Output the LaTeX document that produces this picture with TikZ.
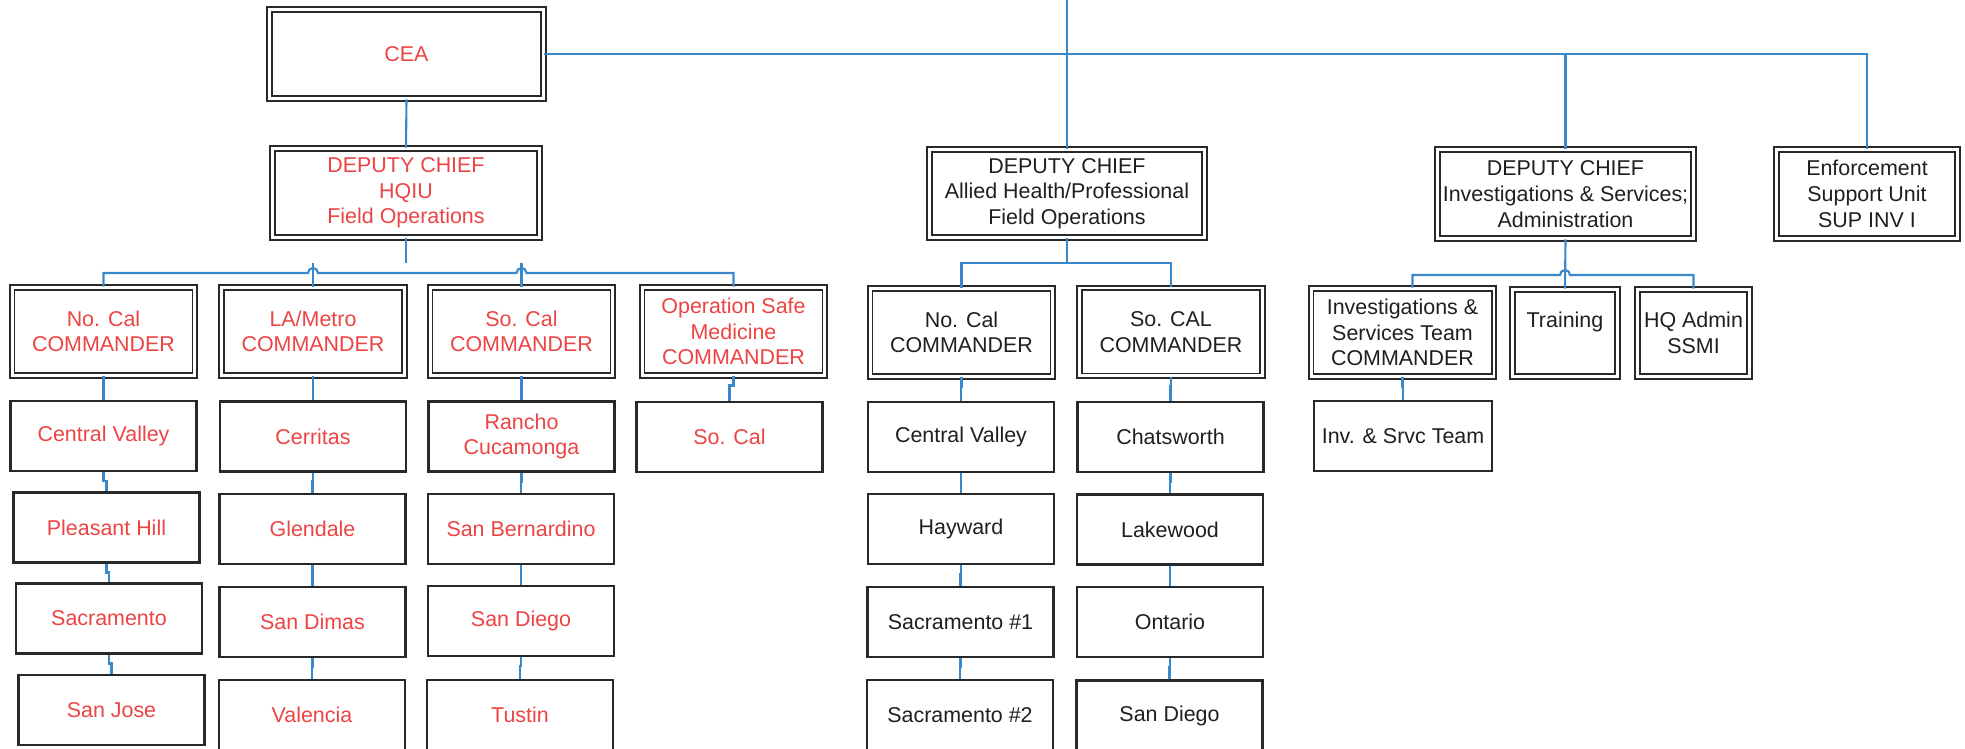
\documentclass[tikz,border=0pt]{standalone}
\usepackage{fontspec}
\setmainfont{Liberation Sans}
\usetikzlibrary{calc}
\definecolor{fieldred}{RGB}{236,68,68}
\definecolor{linkblue}{RGB}{58,136,204}
\definecolor{boxline}{RGB}{40,40,40}

\begin{document}
\begin{tikzpicture}[x=0.02cm, y=-0.02cm,
  every node/.style={font=\fontsize{12.2}{14.6}\selectfont, align=center, inner sep=2pt, text=black!88},
  cmd/.style={draw=boxline, line width=1.1pt, double, double distance=1.7pt, minimum width=3.66cm, minimum height=1.76cm},
  unit/.style={draw=boxline, line width=1.2pt, minimum width=3.72cm, minimum height=1.4cm},
  hq/.style={text=fieldred},
  link/.style={draw=linkblue, line width=1.2pt}]
  \useasboundingbox (0,0) rectangle (1965,749);
  % top level
  \node[cmd, hq, minimum width=5.48cm, minimum height=1.78cm] (cea) at (406.5,54) {CEA};
  \node[cmd, hq, minimum width=5.34cm, minimum height=1.78cm] (hqiu) at (406,193) {DEPUTY CHIEF\\HQIU\\Field Operations};
  \node[cmd, minimum width=5.5cm] (allied) at (1067,193.5) {DEPUTY CHIEF\\Allied Health/Professional\\Field Operations};
  \node[cmd, minimum width=5.12cm, minimum height=1.78cm] (invdc) at (1565.5,194) {DEPUTY CHIEF\\Investigations \& Services;\\Administration};
  \node[cmd, minimum width=3.62cm, minimum height=1.78cm] (enf) at (1867,194) {Enforcement\\Support Unit\\SUP INV I};
  % commanders
  \node[cmd, hq] (ncal) at (103.5,331.5) {No. Cal\\COMMANDER};
  \node[cmd, hq] (lam) at (313,331.5) {LA/Metro\\COMMANDER};
  \node[cmd, hq] (scal) at (521.5,331.5) {So. Cal\\COMMANDER};
  \node[cmd, hq] (osm) at (733.5,331.5) {Operation Safe\\Medicine\\COMMANDER};
  \node[cmd] (ncal2) at (961.5,332.5) {No. Cal\\COMMANDER};
  \node[cmd] (scal2) at (1171,332) {So. CAL\\COMMANDER};
  \node[cmd] (invcmd) at (1402.5,332.5) {Investigations \&\\Services Team\\COMMANDER};
  \node[cmd, minimum width=2.1cm, minimum height=1.74cm] (train) at (1565,333) {Training\\\mbox{}};
  \node[cmd, minimum width=2.24cm, minimum height=1.74cm] (hqadm) at (1693.5,333) {HQ Admin\\SSMI};
  % HQIU offices
  \node[unit, hq] (cv) at (103.5,436) {Central Valley};
  \node[unit, hq] (ph) at (106.5,527.5) {Pleasant Hill};
  \node[unit, hq] (sac) at (109,618.5) {Sacramento};
  \node[unit, hq] (sj) at (111.5,710) {San Jose};
  \node[unit, hq] (cer) at (313,436.5) {Cerritas};
  \node[unit, hq] (gle) at (312.5,529) {Glendale};
  \node[unit, hq] (sdim) at (312.5,622) {San Dimas};
  \node[unit, hq] (val) at (312,715) {Valencia};
  \node[unit, hq] (rc) at (521.5,436.5) {Rancho\\Cucamonga};
  \node[unit, hq] (sb) at (521,529) {San Bernardino};
  \node[unit, hq] (sdg) at (521,621) {San Diego};
  \node[unit, hq] (tus) at (520,715) {Tustin};
  \node[unit, hq] (osc) at (729.5,437) {So. Cal};
  % allied health offices
  \node[unit] (cv2) at (961,437) {Central Valley};
  \node[unit] (hay) at (961,529) {Hayward};
  \node[unit] (sac1) at (960.5,622) {Sacramento \#1};
  \node[unit] (sac2) at (960,715) {Sacramento \#2};
  \node[unit] (chat) at (1170.5,437) {Chatsworth};
  \node[unit] (lake) at (1170,529.5) {Lakewood};
  \node[unit] (ont) at (1170,622) {Ontario};
  \node[unit] (sdg2) at (1169.5,715.5) {San Diego};
  \node[unit, minimum width=3.56cm] (invteam) at (1403,436) {Inv. \& Srvc Team};
  % connectors
  \coordinate (top) at (1067,0);
  \coordinate (busA) at (0,273);
  \coordinate (busB) at (0,263);
  \coordinate (busC) at (0,275);
  \draw[link] (top) -- (allied.north);
  \draw[link] (cea.east) -| (enf.north);
  \draw[link] (invdc.north) -- (invdc.north |- cea.east);
  \draw[link] (cea.south) -- (hqiu.north);
  \draw[link] (hqiu.south) -- (hqiu.south |- busB);
  \draw[link] (ncal.north) |- ($(lam.north |- busA)+(-5,0)$) arc[start angle=180, end angle=0, radius=0.1cm]
    -- ($(scal.north |- busA)+(-5,0)$) arc[start angle=180, end angle=0, radius=0.1cm] -| (osm.north);
  \draw[link] (lam.north) -- (lam.north |- busB);
  \draw[link] (scal.north) -- (scal.north |- busB);
  \draw[link] (allied.south) -- (allied.south |- busB);
  \draw[link] (ncal2.north) |- (scal2.north |- busB) -- (scal2.north);
  \draw[link] (invdc.south) -- (train.north);
  \draw[link] ($(invcmd.north)+(10,0)$) |- ($(train.north |- busC)+(-5,0)$) arc[start angle=180, end angle=0, radius=0.1cm] -| (hqadm.north);
  \foreach \a/\b in {ncal/cv, cv/ph, ph/sac, sac/sj, lam/cer, cer/gle, gle/sdim, sdim/val,
      scal/rc, rc/sb, sb/sdg, sdg/tus, osm/osc, ncal2/cv2, cv2/hay, hay/sac1, sac1/sac2,
      scal2/chat, chat/lake, lake/ont, ont/sdg2, invcmd/invteam}
    \draw[link] (\a.south) -- ++(0,9) -| (\b.north);
\end{tikzpicture}
\end{document}
